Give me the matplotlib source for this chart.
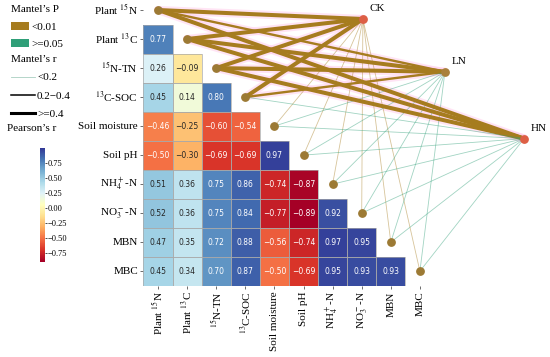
import numpy as np
import pandas as pd
import seaborn as sns
import matplotlib.pyplot as plt
from matplotlib.patches import Patch, Rectangle
from matplotlib.lines import Line2D

plt.rcParams['font.family'] = ['Liberation Serif', 'DejaVu Serif']
plt.rcParams['mathtext.fontset'] = 'stix'

# variables (rows/cols of the Pearson matrix)
labels = ['Plant $^{15}$N', 'Plant $^{13}$C', '$^{15}$N-TN', '$^{13}$C-SOC', 'Soil moisture',
          'Soil pH', 'NH$_4^+$-N', 'NO$_3^-$-N', 'MBN', 'MBC']

# lower triangle of Pearson's r, row by row
lower = [
    [],
    [0.77],
    [0.26, -0.09],
    [0.45, 0.14, 0.80],
    [-0.46, -0.25, -0.60, -0.54],
    [-0.50, -0.30, -0.69, -0.69, 0.97],
    [0.51, 0.36, 0.75, 0.86, -0.74, -0.87],
    [0.52, 0.36, 0.75, 0.84, -0.77, -0.89, 0.92],
    [0.47, 0.35, 0.72, 0.88, -0.56, -0.74, 0.97, 0.95],
    [0.45, 0.34, 0.70, 0.87, -0.50, -0.69, 0.95, 0.93, 0.93],
]

# mantel test results, one value per variable
groups = ['CK', 'LN', 'HN']
ck_r = [0.52, 0.48, 0.50, 0.45, 0.12, 0.10, 0.09, 0.08, 0.11, 0.10]
ck_p = [0.001, 0.001, 0.001, 0.001, 0.005, 0.006, 0.008, 0.007, 0.006, 0.008]
ln_r = [0.35, 0.46, 0.48, 0.30, 0.08, 0.06, 0.05, 0.07, 0.06, 0.05]
ln_p = [0.001, 0.001, 0.001, 0.004, 0.31, 0.42, 0.55, 0.38, 0.47, 0.51]
hn_r = [0.45, 0.50, 0.47, 0.15, 0.06, 0.05, 0.07, 0.06, 0.05, 0.04]
hn_p = [0.001, 0.001, 0.001, 0.21, 0.44, 0.52, 0.36, 0.41, 0.58, 0.62]

brown = '#a67c1f'
green = '#2f9f78'

corr = np.full((10, 10), np.nan)
for i, row in enumerate(lower):
    corr[i, :len(row)] = row
df = pd.DataFrame(corr, index=labels, columns=labels)
mask = np.isnan(corr)
annot = np.vectorize(lambda v: '' if np.isnan(v) else f'{v:.2f}'.replace('-', '\u2212'))(corr)

fig = plt.figure(figsize=(5.5, 3.57), dpi=100)
ax = fig.add_axes([0.2609, 0.1997, 0.529, 0.8129])
cax = fig.add_axes([40 / 550, 1 - 261.7 / 357, 4.5 / 550, 114 / 357])

sns.heatmap(df, mask=mask, ax=ax, cbar_ax=cax, cmap='RdYlBu', vmin=-0.89, vmax=1.0,
            annot=annot, fmt='', annot_kws={'size': 5.5, 'family': 'DejaVu Sans'},
            linewidths=0)
# thin cell borders only where there is a cell
for i in range(10):
    for j in range(10):
        if not mask[i, j]:
            ax.add_patch(Rectangle((j, i), 1, 1, fill=False, ec='#a9a9a9', lw=0.5, zorder=2))
ax.set_xticklabels(labels, rotation=90, fontsize=8)
ax.set_yticklabels(labels, rotation=0, fontsize=8)
ax.tick_params(length=2.5, width=0.6, color='#555555', pad=1.5)

cax.tick_params(labelsize=6, length=1.5, width=0.5, pad=1)
cax.set_yticks([-0.75, -0.5, -0.25, 0, 0.25, 0.5, 0.75])
cax.set_yticklabels(['\u22120.75', '\u22120.50', '\u22120.25', '0.00', '0.25', '0.50', '0.75'])
for s in cax.spines.values():
    s.set_visible(False)

# mantel links
pos = {'CK': (7.54, 0.81), 'LN': (10.36, 2.63), 'HN': (13.08, 4.93)}
node_col = {'CK': '#dd5f45', 'LN': '#a9803a', 'HN': '#dd5f45'}
for g, rr, pp in zip(groups, [ck_r, ln_r, hn_r], [ck_p, ln_p, hn_p]):
    gx, gy = pos[g]
    for i in range(10):
        r, p = rr[i], pp[i]
        col = brown if p < 0.01 else green
        if r >= 0.4:
            lw, a = 2.9, 1.0
        elif r >= 0.2:
            lw, a = 1.7, 1.0
        else:
            lw, a = 0.6, 0.45
        x0, y0 = i + 0.5, i + 0.5
        if r >= 0.2:
            ax.plot([x0, gx], [y0, gy], color='#ffd3ee', lw=lw + 3, alpha=0.6,
                    solid_capstyle='round', clip_on=False, zorder=3)
        ax.plot([x0, gx], [y0, gy], color=col, lw=lw, alpha=a,
                solid_capstyle='round', clip_on=False, zorder=4)
    ax.scatter([gx], [gy], s=28, color=node_col[g], zorder=6, clip_on=False)
    ax.text(gx + 0.22, gy - 0.2, g, fontsize=8, ha='left', va='bottom')

ax.scatter(np.arange(10) + 0.5, np.arange(10) + 0.5, s=28, color='#9c7a34',
           zorder=6, clip_on=False)

# legends
fig.legend(handles=[Patch(facecolor=brown), Patch(facecolor=green)],
           labels=['<0.01', '>=0.05'], title="Mantel\u2019s P",
           loc='upper left', bbox_to_anchor=(0.02, 0.986), frameon=False,
           fontsize=8, title_fontsize=8, alignment='left', borderpad=0,
           borderaxespad=0, handlelength=1.6, handleheight=0.7,
           handletextpad=0.25, labelspacing=0.7)
fig.legend(handles=[Line2D([], [], color='#a8cfc0', lw=0.6),
                    Line2D([], [], color='black', lw=1.1),
                    Line2D([], [], color='black', lw=2.2)],
           labels=['<0.2', '0.2\u22120.4', '>=0.4'], title="Mantel\u2019s r",
           loc='upper left', bbox_to_anchor=(0.02, 0.845), frameon=False,
           fontsize=8, title_fontsize=8, alignment='left', borderpad=0,
           borderaxespad=0, handlelength=2.2, handletextpad=0.15,
           labelspacing=0.75)
fig.text(7 / 550, 1 - 128 / 357, "Pearson\u2019s r", fontsize=8, va='center', ha='left')

fig.savefig('out.png', dpi=100)
